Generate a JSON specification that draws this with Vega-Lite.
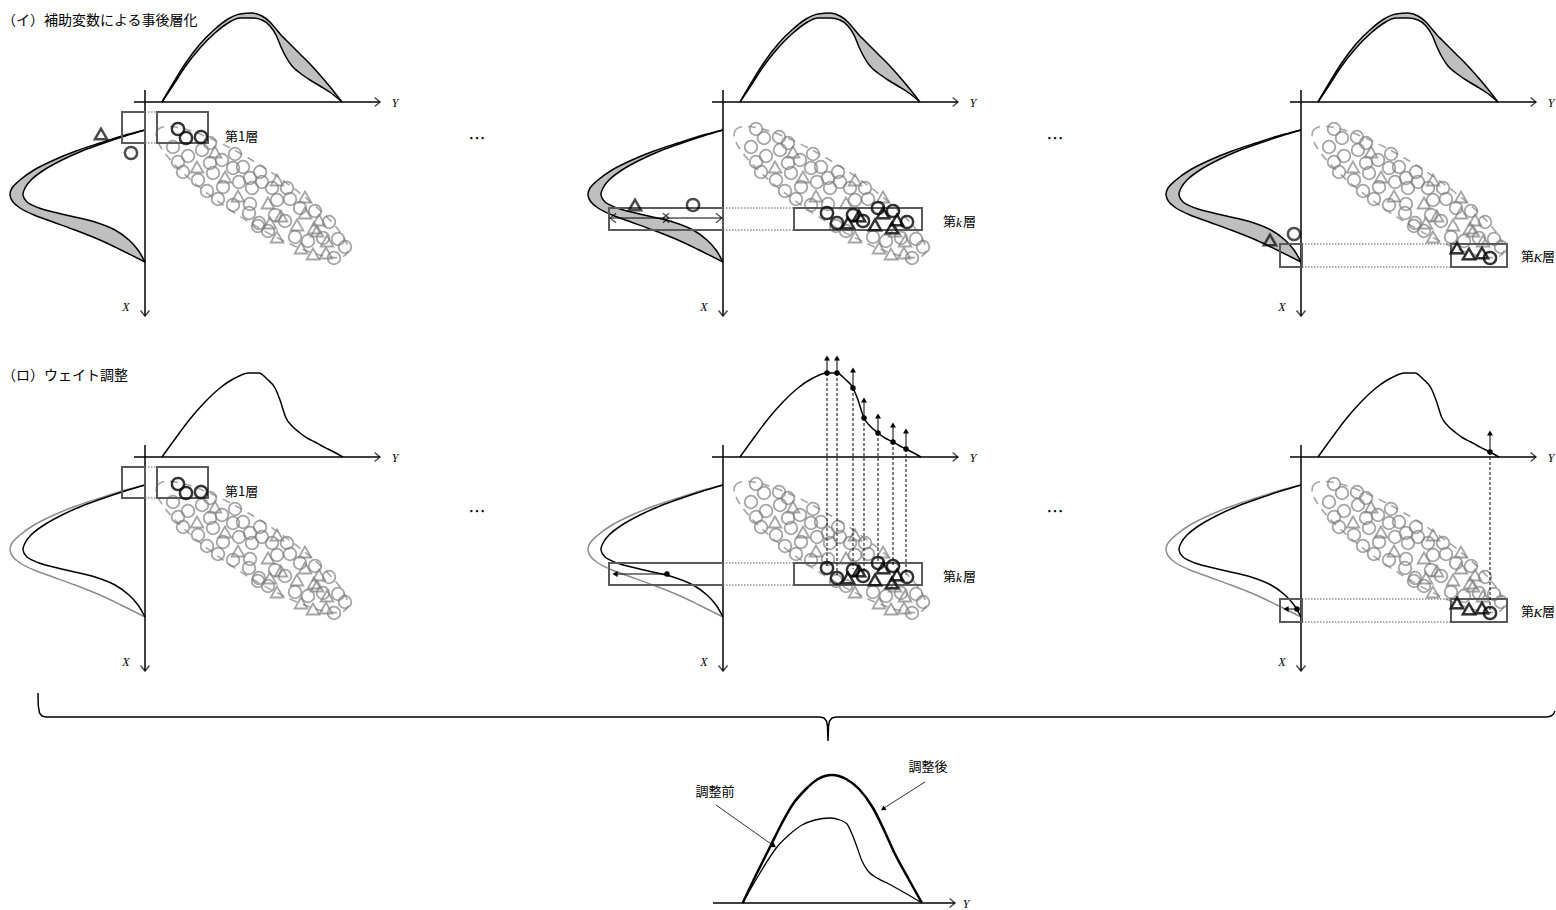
{
"$schema":"https://vega.github.io/schema/vega-lite/v6.json",
"padding":0,
"spacing":0,
"config":{"view":{"stroke":null},"axis":{"disable":true},"legend":{"disable":true},"concat":{"spacing":0},"text":{"font":"Noto Sans CJK JP","color":"black"}},
"datasets":{
"topA":[{"x":162,"yo":102,"yi":102},{"x":172,"yo":85,"yi":87},{"x":185,"yo":64,"yi":67},{"x":200,"yo":44,"yi":48},{"x":215,"yo":29,"yi":33},{"x":228,"yo":19,"yi":23},{"x":240,"yo":14,"yi":18},{"x":252,"yo":13,"yi":18},{"x":262,"yo":16,"yi":20},{"x":270,"yo":22,"yi":26},{"x":276,"yo":29,"yi":35},{"x":281,"yo":35,"yi":47},{"x":286,"yo":40,"yi":57},{"x":292,"yo":46,"yi":66},{"x":300,"yo":54,"yi":73},{"x":310,"yo":64,"yi":80},{"x":320,"yo":75,"yi":86},{"x":331,"yo":88,"yi":93},{"x":342,"yo":102,"yi":102}],
"left":[{"y":130,"xo":145,"xi":145},{"y":136,"xo":122,"xi":125},{"y":143,"xo":100,"xi":104},{"y":151,"xo":76,"xi":82},{"y":160,"xo":54,"xi":62},{"y":170,"xo":34,"xi":44},{"y":180,"xo":20,"xi":31},{"y":188,"xo":12,"xi":25},{"y":195,"xo":10,"xi":23},{"y":202,"xo":13,"xi":27},{"y":208,"xo":20,"xi":39},{"y":215,"xo":34,"xi":66},{"y":222,"xo":53,"xi":95},{"y":230,"xo":75,"xi":115},{"y":240,"xo":100,"xi":129},{"y":250,"xo":121,"xi":138},{"y":262,"xo":145,"xi":145}],
"topB":[{"x":162,"y":102},{"x":175,"y":84},{"x":190,"y":64},{"x":205,"y":47},{"x":220,"y":33},{"x":235,"y":23},{"x":249,"y":18},{"x":259,"y":18},{"x":267,"y":24},{"x":275,"y":33},{"x":280,"y":45},{"x":286,"y":63},{"x":292,"y":71},{"x":300,"y":78},{"x":307,"y":83},{"x":315,"y":87},{"x":321,"y":90.5},{"x":328,"y":94},{"x":334,"y":97},{"x":343,"y":102}],
"ax":[{"x":134,"x2":380,"y":102,"y2":102},{"x":145,"x2":145,"y":90,"y2":316}],
"axl":[{"x":395,"y":103,"t":"Y"},{"x":126,"y":307,"t":"X"}],
"scatter":[{"x":173,"y":147,"s":"c"},{"x":178,"y":162,"s":"c"},{"x":183,"y":172,"s":"c"},{"x":188,"y":156,"s":"c"},{"x":202,"y":150,"s":"c"},{"x":210,"y":143,"s":"c"},{"x":215,"y":152,"s":"t"},{"x":197,"y":167,"s":"t"},{"x":198,"y":180,"s":"c"},{"x":210,"y":163,"s":"c"},{"x":213,"y":173,"s":"c"},{"x":222,"y":160,"s":"c"},{"x":235,"y":154,"s":"c"},{"x":233,"y":168,"s":"c"},{"x":243,"y":167,"s":"c"},{"x":225,"y":177,"s":"t"},{"x":223,"y":187,"s":"c"},{"x":207,"y":191,"s":"c"},{"x":218,"y":199,"s":"c"},{"x":238,"y":196,"s":"t"},{"x":233,"y":205,"s":"c"},{"x":250,"y":178,"s":"c"},{"x":239,"y":182,"s":"c"},{"x":252,"y":188,"s":"c"},{"x":262,"y":182,"s":"c"},{"x":260,"y":172,"s":"c"},{"x":277,"y":180,"s":"t"},{"x":272,"y":188,"s":"c"},{"x":287,"y":188,"s":"c"},{"x":268,"y":203,"s":"t"},{"x":250,"y":204,"s":"c"},{"x":258,"y":226,"s":"c"},{"x":277,"y":200,"s":"c"},{"x":290,"y":199,"s":"c"},{"x":305,"y":197,"s":"t"},{"x":268,"y":231,"s":"c"},{"x":277,"y":237,"s":"t"},{"x":295,"y":237,"s":"c"},{"x":308,"y":241,"s":"c"},{"x":317,"y":231,"s":"t"},{"x":323,"y":238,"s":"c"},{"x":327,"y":241,"s":"t"},{"x":338,"y":239,"s":"c"},{"x":345,"y":247,"s":"c"},{"x":178,"y":129,"s":"c"},{"x":186,"y":138,"s":"c"},{"x":201,"y":137,"s":"c"},{"x":249,"y":213,"s":"c"},{"x":259,"y":223,"s":"c"},{"x":270,"y":223,"s":"t"},{"x":275,"y":215,"s":"c"},{"x":281,"y":216,"s":"t"},{"x":285,"y":221,"s":"c"},{"x":297,"y":225,"s":"t"},{"x":300,"y":208,"s":"c"},{"x":305,"y":213,"s":"t"},{"x":315,"y":211,"s":"c"},{"x":314,"y":228,"s":"t"},{"x":319,"y":220,"s":"t"},{"x":329,"y":222,"s":"c"},{"x":301,"y":248,"s":"t"},{"x":313,"y":254,"s":"t"},{"x":326,"y":253,"s":"t"},{"x":334,"y":258,"s":"c"}],
"s1":[{"x":178,"y":129,"s":"c"},{"x":186,"y":138,"s":"c"},{"x":201,"y":137,"s":"c"}],
"sk":[{"x":249,"y":213,"s":"c"},{"x":259,"y":223,"s":"c"},{"x":270,"y":223,"s":"t"},{"x":275,"y":215,"s":"c"},{"x":281,"y":216,"s":"t"},{"x":285,"y":221,"s":"c"},{"x":297,"y":225,"s":"t"},{"x":300,"y":208,"s":"c"},{"x":305,"y":213,"s":"t"},{"x":315,"y":211,"s":"c"},{"x":314,"y":228,"s":"t"},{"x":319,"y":220,"s":"t"},{"x":329,"y":222,"s":"c"}],
"sK":[{"x":301,"y":248,"s":"t"},{"x":313,"y":254,"s":"t"},{"x":326,"y":253,"s":"t"},{"x":334,"y":258,"s":"c"}],
"vk":[{"x":249,"y":18,"yt":3,"yb":212},{"x":259,"y":18,"yt":3,"yb":220},{"x":275,"y":33,"yt":15,"yb":214},{"x":286,"y":63,"yt":45,"yb":219},{"x":300,"y":78,"yt":61,"yb":207},{"x":315,"y":87,"yt":70,"yb":210},{"x":328,"y":94,"yt":76,"yb":220}],
"vK":[{"x":334,"y":97,"yt":78,"yb":258}],
"brace":[{"x":38,"y":3,"i":0},{"x":38.3,"y":16,"i":1},{"x":39.5,"y":23,"i":2},{"x":42,"y":26,"i":3},{"x":46,"y":27,"i":4},{"x":820,"y":27,"i":5},{"x":824,"y":28,"i":6},{"x":826.5,"y":31,"i":7},{"x":827.5,"y":36,"i":8},{"x":828,"y":51,"i":9},{"x":828.5,"y":36,"i":10},{"x":829.5,"y":31,"i":11},{"x":832,"y":28,"i":12},{"x":836,"y":27,"i":13},{"x":1547,"y":27,"i":14},{"x":1551,"y":26,"i":15},{"x":1553.5,"y":24,"i":16},{"x":1555,"y":21,"i":17}],
"bo":[{"x":742.7,"y":213},{"x":756,"y":185},{"x":770,"y":157},{"x":782,"y":133},{"x":793,"y":114},{"x":805,"y":100},{"x":818,"y":89},{"x":832,"y":85},{"x":846,"y":89},{"x":859,"y":99},{"x":873,"y":118},{"x":884,"y":140},{"x":894,"y":162},{"x":908,"y":188},{"x":922,"y":213}],
"bi":[{"x":742.7,"y":213},{"x":760,"y":183},{"x":777,"y":157},{"x":790,"y":144},{"x":802,"y":135},{"x":815,"y":130},{"x":830,"y":128},{"x":840,"y":130},{"x":847,"y":134},{"x":852,"y":144},{"x":857,"y":157},{"x":862,"y":171},{"x":868,"y":181},{"x":877,"y":188},{"x":888,"y":193.5},{"x":905,"y":203},{"x":922,"y":213}]
},
"resolve":{"scale":{"x":"independent","y":"independent"}},
"vconcat":[
{"hconcat":[
{"width":578,"height":355,
"encoding":{"x":{"field":"x","type":"quantitative","scale":{"domain":[0,578],"nice":false}},"y":{"field":"y","type":"quantitative","scale":{"domain":[0,355],"nice":false,"reverse":true}}},
"layer":[
{"data":{"name":"topA"},"mark":{"type":"area","interpolate":"monotone","fill":"#bfbfbf"},"encoding":{"y":{"field":"yo","type":"quantitative","scale":{"domain":[0,355],"nice":false,"reverse":true}},"y2":{"field":"yi"}}},
{"data":{"name":"left"},"mark":{"type":"area","orient":"horizontal","interpolate":"catmull-rom","fill":"#bfbfbf"},"encoding":{"x":{"field":"xo","type":"quantitative","scale":{"domain":[0,578],"nice":false}},"x2":{"field":"xi"}}},
{"data":{"values":[{"x":252,"y":192}]},"mark":{"type":"point","shape":"M -1 0 C -1 -0.132 -0.552 -0.239 0 -0.239 C 0.552 -0.239 1 -0.132 1 0 C 1 0.132 0.552 0.239 0 0.239 C -0.552 0.239 -1 0.132 -1 0 Z","size":51076,"angle":33,"filled":false,"stroke":"#808080","strokeWidth":1.6,"strokeDash":[8,6]}},
{"data":{"name":"scatter"},"mark":{"type":"point","filled":false,"stroke":"#7f7f7f","strokeWidth":1.8,"size":160},"encoding":{"shape":{"field":"s","type":"nominal","scale":{"domain":["c","t"],"range":["circle","triangle-up"]},"legend":null}}},
{"data":{"name":"topA"},"mark":{"type":"line","interpolate":"monotone","stroke":"black","strokeWidth":1.5},"encoding":{"y":{"field":"yo","type":"quantitative","scale":{"domain":[0,355],"nice":false,"reverse":true}}}},
{"data":{"name":"topA"},"mark":{"type":"line","interpolate":"monotone","stroke":"black","strokeWidth":1.5},"encoding":{"y":{"field":"yi","type":"quantitative","scale":{"domain":[0,355],"nice":false,"reverse":true}}}},
{"data":{"name":"left"},"mark":{"type":"line","interpolate":"catmull-rom","stroke":"black","strokeWidth":1.5},"encoding":{"x":{"field":"xo","type":"quantitative","scale":{"domain":[0,578],"nice":false}},"order":{"field":"y","type":"quantitative"}}},
{"data":{"name":"left"},"mark":{"type":"line","interpolate":"catmull-rom","stroke":"black","strokeWidth":1.5},"encoding":{"x":{"field":"xi","type":"quantitative","scale":{"domain":[0,578],"nice":false}},"order":{"field":"y","type":"quantitative"}}},
{"data":{"name":"ax"},"mark":{"type":"rule","stroke":"black","strokeWidth":1.5},"encoding":{"x2":{"field":"x2"},"y2":{"field":"y2"}}},
{"data":{"values":[{"x":380,"y":102}]},"mark":{"type":"point","shape":"M -1.2 -1 L 0 0 L -1.2 1","filled":false,"stroke":"black","strokeWidth":1.5,"size":81}},
{"data":{"values":[{"x":145,"y":316}]},"mark":{"type":"point","shape":"M -1 -1.2 L 0 0 L 1 -1.2","filled":false,"stroke":"black","strokeWidth":1.5,"size":81}},
{"data":{"name":"axl"},"mark":{"type":"text","font":"Liberation Serif","fontStyle":"italic","fontSize":12},"encoding":{"text":{"field":"t"}}},
{"data":{"values":[{"x":145,"x2":157,"y":112,"y2":112},{"x":145,"x2":157,"y":143,"y2":143}]},"mark":{"type":"rule","stroke":"#5a5a5a","strokeWidth":1,"strokeDash":[1.5,1.5]},"encoding":{"x2":{"field":"x2"},"y2":{"field":"y2"}}},
{"data":{"values":[{"x":122,"x2":145,"y":112,"y2":143},{"x":157,"x2":208,"y":112,"y2":143}]},"mark":{"type":"rect","filled":false,"stroke":"#5a5a5a","strokeWidth":2},"encoding":{"x2":{"field":"x2"},"y2":{"field":"y2"}}},
{"data":{"name":"s1"},"mark":{"type":"point","filled":false,"stroke":"black","strokeWidth":2.5,"size":150},"encoding":{"shape":{"field":"s","type":"nominal","scale":{"domain":["c","t"],"range":["circle","triangle-up"]},"legend":null}}},
{"data":{"values":[{"x":101,"y":134,"s":"t"},{"x":131,"y":153,"s":"c"}]},"mark":{"type":"point","filled":false,"stroke":"black","strokeWidth":2.5,"size":150},"encoding":{"shape":{"field":"s","type":"nominal","scale":{"domain":["c","t"],"range":["circle","triangle-up"]},"legend":null}}},
{"data":{"values":[{"x":225,"y":137,"t":"第1層"}]},"mark":{"type":"text","align":"left","fontSize":13},"encoding":{"text":{"field":"t"}}},
{"data":{"values":[{"x":2,"y":21,"t":"（イ）補助変数による事後層化"}]},"mark":{"type":"text","align":"left","fontSize":14},"encoding":{"text":{"field":"t"}}},
{"data":{"values":[{"x":477,"y":140,"t":"…"}]},"mark":{"type":"text","fontSize":17},"encoding":{"text":{"field":"t"}}}
]},
{"width":578,"height":355,
"encoding":{"x":{"field":"x","type":"quantitative","scale":{"domain":[0,578],"nice":false}},"y":{"field":"y","type":"quantitative","scale":{"domain":[0,355],"nice":false,"reverse":true}}},
"layer":[
{"data":{"name":"topA"},"mark":{"type":"area","interpolate":"monotone","fill":"#bfbfbf"},"encoding":{"y":{"field":"yo","type":"quantitative","scale":{"domain":[0,355],"nice":false,"reverse":true}},"y2":{"field":"yi"}}},
{"data":{"name":"left"},"mark":{"type":"area","orient":"horizontal","interpolate":"catmull-rom","fill":"#bfbfbf"},"encoding":{"x":{"field":"xo","type":"quantitative","scale":{"domain":[0,578],"nice":false}},"x2":{"field":"xi"}}},
{"data":{"values":[{"x":252,"y":192}]},"mark":{"type":"point","shape":"M -1 0 C -1 -0.132 -0.552 -0.239 0 -0.239 C 0.552 -0.239 1 -0.132 1 0 C 1 0.132 0.552 0.239 0 0.239 C -0.552 0.239 -1 0.132 -1 0 Z","size":51076,"angle":33,"filled":false,"stroke":"#808080","strokeWidth":1.6,"strokeDash":[8,6]}},
{"data":{"name":"scatter"},"mark":{"type":"point","filled":false,"stroke":"#7f7f7f","strokeWidth":1.8,"size":160},"encoding":{"shape":{"field":"s","type":"nominal","scale":{"domain":["c","t"],"range":["circle","triangle-up"]},"legend":null}}},
{"data":{"name":"topA"},"mark":{"type":"line","interpolate":"monotone","stroke":"black","strokeWidth":1.5},"encoding":{"y":{"field":"yo","type":"quantitative","scale":{"domain":[0,355],"nice":false,"reverse":true}}}},
{"data":{"name":"topA"},"mark":{"type":"line","interpolate":"monotone","stroke":"black","strokeWidth":1.5},"encoding":{"y":{"field":"yi","type":"quantitative","scale":{"domain":[0,355],"nice":false,"reverse":true}}}},
{"data":{"name":"left"},"mark":{"type":"line","interpolate":"catmull-rom","stroke":"black","strokeWidth":1.5},"encoding":{"x":{"field":"xo","type":"quantitative","scale":{"domain":[0,578],"nice":false}},"order":{"field":"y","type":"quantitative"}}},
{"data":{"name":"left"},"mark":{"type":"line","interpolate":"catmull-rom","stroke":"black","strokeWidth":1.5},"encoding":{"x":{"field":"xi","type":"quantitative","scale":{"domain":[0,578],"nice":false}},"order":{"field":"y","type":"quantitative"}}},
{"data":{"name":"ax"},"mark":{"type":"rule","stroke":"black","strokeWidth":1.5},"encoding":{"x2":{"field":"x2"},"y2":{"field":"y2"}}},
{"data":{"values":[{"x":380,"y":102}]},"mark":{"type":"point","shape":"M -1.2 -1 L 0 0 L -1.2 1","filled":false,"stroke":"black","strokeWidth":1.5,"size":81}},
{"data":{"values":[{"x":145,"y":316}]},"mark":{"type":"point","shape":"M -1 -1.2 L 0 0 L 1 -1.2","filled":false,"stroke":"black","strokeWidth":1.5,"size":81}},
{"data":{"name":"axl"},"mark":{"type":"text","font":"Liberation Serif","fontStyle":"italic","fontSize":12},"encoding":{"text":{"field":"t"}}},
{"data":{"values":[{"x":145,"x2":216,"y":208,"y2":208},{"x":145,"x2":216,"y":230,"y2":230}]},"mark":{"type":"rule","stroke":"#5a5a5a","strokeWidth":1,"strokeDash":[1.5,1.5]},"encoding":{"x2":{"field":"x2"},"y2":{"field":"y2"}}},
{"data":{"values":[{"x":31,"x2":145,"y":208,"y2":230},{"x":216,"x2":344,"y":208,"y2":230}]},"mark":{"type":"rect","filled":false,"stroke":"#5a5a5a","strokeWidth":2},"encoding":{"x2":{"field":"x2"},"y2":{"field":"y2"}}},
{"data":{"values":[{"x":32,"x2":144,"y":218}]},"mark":{"type":"rule","stroke":"black","strokeWidth":1},"encoding":{"x2":{"field":"x2"}}},
{"data":{"values":[{"x":32,"y":218},{"x":85,"y":218}]},"mark":{"type":"point","shape":"M 1.3 -1 L 0 0 L 1.3 1","filled":false,"stroke":"black","strokeWidth":1.2,"size":90}},
{"data":{"values":[{"x":91,"y":218},{"x":144,"y":218}]},"mark":{"type":"point","shape":"M -1.3 -1 L 0 0 L -1.3 1","filled":false,"stroke":"black","strokeWidth":1.2,"size":90}},
{"data":{"name":"sk"},"mark":{"type":"point","filled":false,"stroke":"black","strokeWidth":2.5,"size":150},"encoding":{"shape":{"field":"s","type":"nominal","scale":{"domain":["c","t"],"range":["circle","triangle-up"]},"legend":null}}},
{"data":{"values":[{"x":57,"y":205,"s":"t"},{"x":115,"y":205,"s":"c"}]},"mark":{"type":"point","filled":false,"stroke":"black","strokeWidth":2.5,"size":150},"encoding":{"shape":{"field":"s","type":"nominal","scale":{"domain":["c","t"],"range":["circle","triangle-up"]},"legend":null}}},
{"data":{"values":[{"x":365,"y":222,"t":"第"},{"x":385,"y":222,"t":"層"}]},"mark":{"type":"text","align":"left","fontSize":13},"encoding":{"text":{"field":"t"}}},
{"data":{"values":[{"x":378,"y":223,"t":"k"}]},"mark":{"type":"text","align":"left","fontSize":13,"font":"Liberation Serif","fontStyle":"italic"},"encoding":{"text":{"field":"t"}}},
{"data":{"values":[{"x":477,"y":140,"t":"…"}]},"mark":{"type":"text","fontSize":17},"encoding":{"text":{"field":"t"}}}
]},
{"width":400,"height":355,
"encoding":{"x":{"field":"x","type":"quantitative","scale":{"domain":[0,400],"nice":false}},"y":{"field":"y","type":"quantitative","scale":{"domain":[0,355],"nice":false,"reverse":true}}},
"layer":[
{"data":{"name":"topA"},"mark":{"type":"area","interpolate":"monotone","fill":"#bfbfbf"},"encoding":{"y":{"field":"yo","type":"quantitative","scale":{"domain":[0,355],"nice":false,"reverse":true}},"y2":{"field":"yi"}}},
{"data":{"name":"left"},"mark":{"type":"area","orient":"horizontal","interpolate":"catmull-rom","fill":"#bfbfbf"},"encoding":{"x":{"field":"xo","type":"quantitative","scale":{"domain":[0,400],"nice":false}},"x2":{"field":"xi"}}},
{"data":{"values":[{"x":252,"y":192}]},"mark":{"type":"point","shape":"M -1 0 C -1 -0.132 -0.552 -0.239 0 -0.239 C 0.552 -0.239 1 -0.132 1 0 C 1 0.132 0.552 0.239 0 0.239 C -0.552 0.239 -1 0.132 -1 0 Z","size":51076,"angle":33,"filled":false,"stroke":"#808080","strokeWidth":1.6,"strokeDash":[8,6]}},
{"data":{"name":"scatter"},"mark":{"type":"point","filled":false,"stroke":"#7f7f7f","strokeWidth":1.8,"size":160},"encoding":{"shape":{"field":"s","type":"nominal","scale":{"domain":["c","t"],"range":["circle","triangle-up"]},"legend":null}}},
{"data":{"name":"topA"},"mark":{"type":"line","interpolate":"monotone","stroke":"black","strokeWidth":1.5},"encoding":{"y":{"field":"yo","type":"quantitative","scale":{"domain":[0,355],"nice":false,"reverse":true}}}},
{"data":{"name":"topA"},"mark":{"type":"line","interpolate":"monotone","stroke":"black","strokeWidth":1.5},"encoding":{"y":{"field":"yi","type":"quantitative","scale":{"domain":[0,355],"nice":false,"reverse":true}}}},
{"data":{"name":"left"},"mark":{"type":"line","interpolate":"catmull-rom","stroke":"black","strokeWidth":1.5},"encoding":{"x":{"field":"xo","type":"quantitative","scale":{"domain":[0,400],"nice":false}},"order":{"field":"y","type":"quantitative"}}},
{"data":{"name":"left"},"mark":{"type":"line","interpolate":"catmull-rom","stroke":"black","strokeWidth":1.5},"encoding":{"x":{"field":"xi","type":"quantitative","scale":{"domain":[0,400],"nice":false}},"order":{"field":"y","type":"quantitative"}}},
{"data":{"name":"ax"},"mark":{"type":"rule","stroke":"black","strokeWidth":1.5},"encoding":{"x2":{"field":"x2"},"y2":{"field":"y2"}}},
{"data":{"values":[{"x":380,"y":102}]},"mark":{"type":"point","shape":"M -1.2 -1 L 0 0 L -1.2 1","filled":false,"stroke":"black","strokeWidth":1.5,"size":81}},
{"data":{"values":[{"x":145,"y":316}]},"mark":{"type":"point","shape":"M -1 -1.2 L 0 0 L 1 -1.2","filled":false,"stroke":"black","strokeWidth":1.5,"size":81}},
{"data":{"name":"axl"},"mark":{"type":"text","font":"Liberation Serif","fontStyle":"italic","fontSize":12},"encoding":{"text":{"field":"t"}}},
{"data":{"values":[{"x":146,"x2":295,"y":244,"y2":244},{"x":146,"x2":295,"y":267,"y2":267}]},"mark":{"type":"rule","stroke":"#5a5a5a","strokeWidth":1,"strokeDash":[1.5,1.5]},"encoding":{"x2":{"field":"x2"},"y2":{"field":"y2"}}},
{"data":{"values":[{"x":124,"x2":146,"y":244,"y2":267},{"x":295,"x2":351,"y":244,"y2":267}]},"mark":{"type":"rect","filled":false,"stroke":"#5a5a5a","strokeWidth":2},"encoding":{"x2":{"field":"x2"},"y2":{"field":"y2"}}},
{"data":{"name":"sK"},"mark":{"type":"point","filled":false,"stroke":"black","strokeWidth":2.5,"size":150},"encoding":{"shape":{"field":"s","type":"nominal","scale":{"domain":["c","t"],"range":["circle","triangle-up"]},"legend":null}}},
{"data":{"values":[{"x":114,"y":240,"s":"t"},{"x":138,"y":234,"s":"c"}]},"mark":{"type":"point","filled":false,"stroke":"black","strokeWidth":2.5,"size":150},"encoding":{"shape":{"field":"s","type":"nominal","scale":{"domain":["c","t"],"range":["circle","triangle-up"]},"legend":null}}},
{"data":{"values":[{"x":365,"y":257,"t":"第"},{"x":386,"y":257,"t":"層"}]},"mark":{"type":"text","align":"left","fontSize":13},"encoding":{"text":{"field":"t"}}},
{"data":{"values":[{"x":377.5,"y":258,"t":"K"}]},"mark":{"type":"text","align":"left","fontSize":13,"font":"Liberation Serif","fontStyle":"italic"},"encoding":{"text":{"field":"t"}}}
]}
],"spacing":0,"resolve":{"scale":{"x":"independent","y":"independent"}}},
{"hconcat":[
{"width":578,"height":335,
"encoding":{"x":{"field":"x","type":"quantitative","scale":{"domain":[0,578],"nice":false}},"y":{"field":"y","type":"quantitative","scale":{"domain":[0,335],"nice":false,"reverse":true}}},
"layer":[
{"data":{"values":[{"x":252,"y":192}]},"mark":{"type":"point","shape":"M -1 0 C -1 -0.132 -0.552 -0.239 0 -0.239 C 0.552 -0.239 1 -0.132 1 0 C 1 0.132 0.552 0.239 0 0.239 C -0.552 0.239 -1 0.132 -1 0 Z","size":51076,"angle":33,"filled":false,"stroke":"#808080","strokeWidth":1.6,"strokeDash":[8,6]}},
{"data":{"name":"scatter"},"mark":{"type":"point","filled":false,"stroke":"#7f7f7f","strokeWidth":1.8,"size":160},"encoding":{"shape":{"field":"s","type":"nominal","scale":{"domain":["c","t"],"range":["circle","triangle-up"]},"legend":null}}},
{"data":{"name":"topB"},"mark":{"type":"line","interpolate":"monotone","stroke":"black","strokeWidth":1.5}},
{"data":{"name":"left"},"mark":{"type":"line","interpolate":"catmull-rom","stroke":"#8c8c8c","strokeWidth":1.5},"encoding":{"x":{"field":"xo","type":"quantitative","scale":{"domain":[0,578],"nice":false}},"order":{"field":"y","type":"quantitative"}}},
{"data":{"name":"left"},"mark":{"type":"line","interpolate":"catmull-rom","stroke":"black","strokeWidth":1.5},"encoding":{"x":{"field":"xi","type":"quantitative","scale":{"domain":[0,578],"nice":false}},"order":{"field":"y","type":"quantitative"}}},
{"data":{"name":"ax"},"mark":{"type":"rule","stroke":"black","strokeWidth":1.5},"encoding":{"x2":{"field":"x2"},"y2":{"field":"y2"}}},
{"data":{"values":[{"x":380,"y":102}]},"mark":{"type":"point","shape":"M -1.2 -1 L 0 0 L -1.2 1","filled":false,"stroke":"black","strokeWidth":1.5,"size":81}},
{"data":{"values":[{"x":145,"y":316}]},"mark":{"type":"point","shape":"M -1 -1.2 L 0 0 L 1 -1.2","filled":false,"stroke":"black","strokeWidth":1.5,"size":81}},
{"data":{"name":"axl"},"mark":{"type":"text","font":"Liberation Serif","fontStyle":"italic","fontSize":12},"encoding":{"text":{"field":"t"}}},
{"data":{"values":[{"x":145,"x2":157,"y":112,"y2":112},{"x":145,"x2":157,"y":143,"y2":143}]},"mark":{"type":"rule","stroke":"#5a5a5a","strokeWidth":1,"strokeDash":[1.5,1.5]},"encoding":{"x2":{"field":"x2"},"y2":{"field":"y2"}}},
{"data":{"values":[{"x":122,"x2":145,"y":112,"y2":143},{"x":157,"x2":208,"y":112,"y2":143}]},"mark":{"type":"rect","filled":false,"stroke":"#5a5a5a","strokeWidth":2},"encoding":{"x2":{"field":"x2"},"y2":{"field":"y2"}}},
{"data":{"name":"s1"},"mark":{"type":"point","filled":false,"stroke":"black","strokeWidth":2.5,"size":150},"encoding":{"shape":{"field":"s","type":"nominal","scale":{"domain":["c","t"],"range":["circle","triangle-up"]},"legend":null}}},
{"data":{"values":[{"x":225,"y":137,"t":"第1層"}]},"mark":{"type":"text","align":"left","fontSize":13},"encoding":{"text":{"field":"t"}}},
{"data":{"values":[{"x":2,"y":21,"t":"（ロ）ウェイト調整"}]},"mark":{"type":"text","align":"left","fontSize":14},"encoding":{"text":{"field":"t"}}},
{"data":{"values":[{"x":477,"y":158,"t":"…"}]},"mark":{"type":"text","fontSize":17},"encoding":{"text":{"field":"t"}}}
]},
{"width":578,"height":335,
"encoding":{"x":{"field":"x","type":"quantitative","scale":{"domain":[0,578],"nice":false}},"y":{"field":"y","type":"quantitative","scale":{"domain":[0,335],"nice":false,"reverse":true}}},
"layer":[
{"data":{"values":[{"x":252,"y":192}]},"mark":{"type":"point","shape":"M -1 0 C -1 -0.132 -0.552 -0.239 0 -0.239 C 0.552 -0.239 1 -0.132 1 0 C 1 0.132 0.552 0.239 0 0.239 C -0.552 0.239 -1 0.132 -1 0 Z","size":51076,"angle":33,"filled":false,"stroke":"#808080","strokeWidth":1.6,"strokeDash":[8,6]}},
{"data":{"name":"scatter"},"mark":{"type":"point","filled":false,"stroke":"#7f7f7f","strokeWidth":1.8,"size":160},"encoding":{"shape":{"field":"s","type":"nominal","scale":{"domain":["c","t"],"range":["circle","triangle-up"]},"legend":null}}},
{"data":{"name":"topB"},"mark":{"type":"line","interpolate":"monotone","stroke":"black","strokeWidth":1.5}},
{"data":{"name":"left"},"mark":{"type":"line","interpolate":"catmull-rom","stroke":"#8c8c8c","strokeWidth":1.5},"encoding":{"x":{"field":"xo","type":"quantitative","scale":{"domain":[0,578],"nice":false}},"order":{"field":"y","type":"quantitative"}}},
{"data":{"name":"left"},"mark":{"type":"line","interpolate":"catmull-rom","stroke":"black","strokeWidth":1.5},"encoding":{"x":{"field":"xi","type":"quantitative","scale":{"domain":[0,578],"nice":false}},"order":{"field":"y","type":"quantitative"}}},
{"data":{"name":"ax"},"mark":{"type":"rule","stroke":"black","strokeWidth":1.5},"encoding":{"x2":{"field":"x2"},"y2":{"field":"y2"}}},
{"data":{"values":[{"x":380,"y":102}]},"mark":{"type":"point","shape":"M -1.2 -1 L 0 0 L -1.2 1","filled":false,"stroke":"black","strokeWidth":1.5,"size":81}},
{"data":{"values":[{"x":145,"y":316}]},"mark":{"type":"point","shape":"M -1 -1.2 L 0 0 L 1 -1.2","filled":false,"stroke":"black","strokeWidth":1.5,"size":81}},
{"data":{"name":"axl"},"mark":{"type":"text","font":"Liberation Serif","fontStyle":"italic","fontSize":12},"encoding":{"text":{"field":"t"}}},
{"data":{"values":[{"x":145,"x2":216,"y":208,"y2":208},{"x":145,"x2":216,"y":230,"y2":230}]},"mark":{"type":"rule","stroke":"#5a5a5a","strokeWidth":1,"strokeDash":[1.5,1.5]},"encoding":{"x2":{"field":"x2"},"y2":{"field":"y2"}}},
{"data":{"values":[{"x":31,"x2":145,"y":208,"y2":230},{"x":216,"x2":344,"y":208,"y2":230}]},"mark":{"type":"rect","filled":false,"stroke":"#5a5a5a","strokeWidth":2},"encoding":{"x2":{"field":"x2"},"y2":{"field":"y2"}}},
{"data":{"name":"vk"},"mark":{"type":"rule","stroke":"black","strokeWidth":1,"strokeDash":[3,2]},"encoding":{"y2":{"field":"yb"}}},
{"data":{"name":"vk"},"mark":{"type":"rule","stroke":"black","strokeWidth":1},"encoding":{"y2":{"field":"yt"}}},
{"data":{"name":"vk"},"mark":{"type":"point","shape":"triangle-up","filled":true,"color":"black","opacity":1,"size":36},"encoding":{"y":{"field":"yt","type":"quantitative","scale":{"domain":[0,335],"nice":false,"reverse":true}}}},
{"data":{"name":"vk"},"mark":{"type":"point","shape":"circle","filled":true,"color":"black","opacity":1,"size":30}},
{"data":{"values":[{"x":39,"x2":89,"y":219}]},"mark":{"type":"rule","stroke":"black","strokeWidth":1},"encoding":{"x2":{"field":"x2"}}},
{"data":{"values":[{"x":37,"y":219}]},"mark":{"type":"point","shape":"triangle-left","filled":true,"color":"black","opacity":1,"size":36}},
{"data":{"values":[{"x":89,"y":219}]},"mark":{"type":"point","shape":"circle","filled":true,"color":"black","opacity":1,"size":30}},
{"data":{"name":"sk"},"mark":{"type":"point","filled":false,"stroke":"black","strokeWidth":2.5,"size":150},"encoding":{"shape":{"field":"s","type":"nominal","scale":{"domain":["c","t"],"range":["circle","triangle-up"]},"legend":null}}},
{"data":{"values":[{"x":365,"y":222,"t":"第"},{"x":385,"y":222,"t":"層"}]},"mark":{"type":"text","align":"left","fontSize":13},"encoding":{"text":{"field":"t"}}},
{"data":{"values":[{"x":378,"y":223,"t":"k"}]},"mark":{"type":"text","align":"left","fontSize":13,"font":"Liberation Serif","fontStyle":"italic"},"encoding":{"text":{"field":"t"}}},
{"data":{"values":[{"x":477,"y":158,"t":"…"}]},"mark":{"type":"text","fontSize":17},"encoding":{"text":{"field":"t"}}}
]},
{"width":400,"height":335,
"encoding":{"x":{"field":"x","type":"quantitative","scale":{"domain":[0,400],"nice":false}},"y":{"field":"y","type":"quantitative","scale":{"domain":[0,335],"nice":false,"reverse":true}}},
"layer":[
{"data":{"values":[{"x":252,"y":192}]},"mark":{"type":"point","shape":"M -1 0 C -1 -0.132 -0.552 -0.239 0 -0.239 C 0.552 -0.239 1 -0.132 1 0 C 1 0.132 0.552 0.239 0 0.239 C -0.552 0.239 -1 0.132 -1 0 Z","size":51076,"angle":33,"filled":false,"stroke":"#808080","strokeWidth":1.6,"strokeDash":[8,6]}},
{"data":{"name":"scatter"},"mark":{"type":"point","filled":false,"stroke":"#7f7f7f","strokeWidth":1.8,"size":160},"encoding":{"shape":{"field":"s","type":"nominal","scale":{"domain":["c","t"],"range":["circle","triangle-up"]},"legend":null}}},
{"data":{"name":"topB"},"mark":{"type":"line","interpolate":"monotone","stroke":"black","strokeWidth":1.5}},
{"data":{"name":"left"},"mark":{"type":"line","interpolate":"catmull-rom","stroke":"#8c8c8c","strokeWidth":1.5},"encoding":{"x":{"field":"xo","type":"quantitative","scale":{"domain":[0,400],"nice":false}},"order":{"field":"y","type":"quantitative"}}},
{"data":{"name":"left"},"mark":{"type":"line","interpolate":"catmull-rom","stroke":"black","strokeWidth":1.5},"encoding":{"x":{"field":"xi","type":"quantitative","scale":{"domain":[0,400],"nice":false}},"order":{"field":"y","type":"quantitative"}}},
{"data":{"name":"ax"},"mark":{"type":"rule","stroke":"black","strokeWidth":1.5},"encoding":{"x2":{"field":"x2"},"y2":{"field":"y2"}}},
{"data":{"values":[{"x":380,"y":102}]},"mark":{"type":"point","shape":"M -1.2 -1 L 0 0 L -1.2 1","filled":false,"stroke":"black","strokeWidth":1.5,"size":81}},
{"data":{"values":[{"x":145,"y":316}]},"mark":{"type":"point","shape":"M -1 -1.2 L 0 0 L 1 -1.2","filled":false,"stroke":"black","strokeWidth":1.5,"size":81}},
{"data":{"name":"axl"},"mark":{"type":"text","font":"Liberation Serif","fontStyle":"italic","fontSize":12},"encoding":{"text":{"field":"t"}}},
{"data":{"values":[{"x":146,"x2":295,"y":244,"y2":244},{"x":146,"x2":295,"y":267,"y2":267}]},"mark":{"type":"rule","stroke":"#5a5a5a","strokeWidth":1,"strokeDash":[1.5,1.5]},"encoding":{"x2":{"field":"x2"},"y2":{"field":"y2"}}},
{"data":{"values":[{"x":124,"x2":146,"y":244,"y2":267},{"x":295,"x2":351,"y":244,"y2":267}]},"mark":{"type":"rect","filled":false,"stroke":"#5a5a5a","strokeWidth":2},"encoding":{"x2":{"field":"x2"},"y2":{"field":"y2"}}},
{"data":{"name":"vK"},"mark":{"type":"rule","stroke":"black","strokeWidth":1,"strokeDash":[3,2]},"encoding":{"y2":{"field":"yb"}}},
{"data":{"name":"vK"},"mark":{"type":"rule","stroke":"black","strokeWidth":1},"encoding":{"y2":{"field":"yt"}}},
{"data":{"name":"vK"},"mark":{"type":"point","shape":"triangle-up","filled":true,"color":"black","opacity":1,"size":36},"encoding":{"y":{"field":"yt","type":"quantitative","scale":{"domain":[0,335],"nice":false,"reverse":true}}}},
{"data":{"name":"vK"},"mark":{"type":"point","shape":"circle","filled":true,"color":"black","opacity":1,"size":30}},
{"data":{"values":[{"x":131,"x2":141,"y":254}]},"mark":{"type":"rule","stroke":"black","strokeWidth":1},"encoding":{"x2":{"field":"x2"}}},
{"data":{"values":[{"x":130,"y":254}]},"mark":{"type":"point","shape":"triangle-left","filled":true,"color":"black","opacity":1,"size":36}},
{"data":{"values":[{"x":141,"y":254}]},"mark":{"type":"point","shape":"circle","filled":true,"color":"black","opacity":1,"size":30}},
{"data":{"name":"sK"},"mark":{"type":"point","filled":false,"stroke":"black","strokeWidth":2.5,"size":150},"encoding":{"shape":{"field":"s","type":"nominal","scale":{"domain":["c","t"],"range":["circle","triangle-up"]},"legend":null}}},
{"data":{"values":[{"x":365,"y":257,"t":"第"},{"x":386,"y":257,"t":"層"}]},"mark":{"type":"text","align":"left","fontSize":13},"encoding":{"text":{"field":"t"}}},
{"data":{"values":[{"x":377.5,"y":258,"t":"K"}]},"mark":{"type":"text","align":"left","fontSize":13,"font":"Liberation Serif","fontStyle":"italic"},"encoding":{"text":{"field":"t"}}}
]}
],"spacing":0,"resolve":{"scale":{"x":"independent","y":"independent"}}},
{"width":1556,"height":220,
"encoding":{"x":{"field":"x","type":"quantitative","scale":{"domain":[0,1556],"nice":false}},"y":{"field":"y","type":"quantitative","scale":{"domain":[0,220],"nice":false,"reverse":true}}},
"layer":[
{"data":{"name":"brace"},"mark":{"type":"line","stroke":"black","strokeWidth":1.5},"encoding":{"order":{"field":"i","type":"quantitative"}}},
{"data":{"name":"bo"},"mark":{"type":"line","interpolate":"monotone","stroke":"black","strokeWidth":2.5}},
{"data":{"name":"bi"},"mark":{"type":"line","interpolate":"monotone","stroke":"black","strokeWidth":1.3}},
{"data":{"values":[{"x":713,"x2":955,"y":213}]},"mark":{"type":"rule","stroke":"black","strokeWidth":1.5},"encoding":{"x2":{"field":"x2"}}},
{"data":{"values":[{"x":955,"y":213}]},"mark":{"type":"point","shape":"M -1.2 -1 L 0 0 L -1.2 1","filled":false,"stroke":"black","strokeWidth":1.5,"size":81}},
{"data":{"values":[{"x":966,"y":214,"t":"Y"}]},"mark":{"type":"text","font":"Liberation Serif","fontStyle":"italic","fontSize":12},"encoding":{"text":{"field":"t"}}},
{"data":{"values":[{"x":716,"y":115,"x2":774,"y2":156},{"x":925,"y":92,"x2":884,"y2":118}]},"mark":{"type":"rule","stroke":"black","strokeWidth":0.8},"encoding":{"x2":{"field":"x2"},"y2":{"field":"y2"}}},
{"data":{"values":[{"x":774,"y":156}]},"mark":{"type":"point","shape":"triangle-right","filled":true,"color":"black","opacity":1,"size":30,"angle":35}},
{"data":{"values":[{"x":883,"y":119}]},"mark":{"type":"point","shape":"triangle-right","filled":true,"color":"black","opacity":1,"size":30,"angle":148}},
{"data":{"values":[{"x":715,"y":102,"t":"調整前"},{"x":928,"y":77,"t":"調整後"}]},"mark":{"type":"text","fontSize":13},"encoding":{"text":{"field":"t"}}}
]}
]
}
